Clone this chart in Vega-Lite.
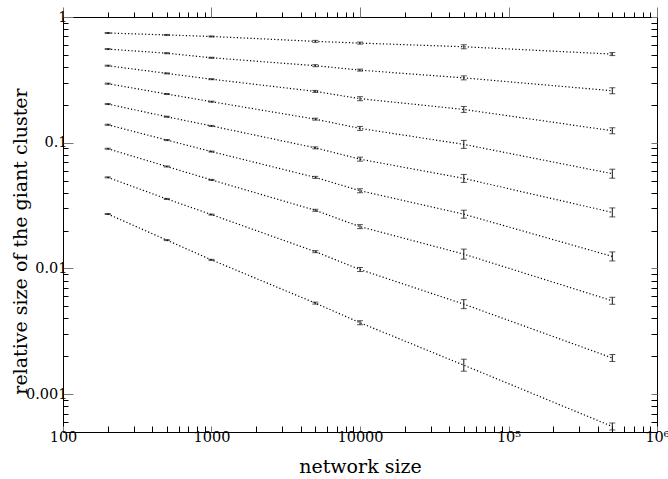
{
  "$schema": "https://vega.github.io/schema/vega-lite/v6.json",
  "width": 594,
  "height": 415,
  "autosize": {"type": "none"},
  "padding": {"left": 63, "top": 17, "right": 11, "bottom": 47},
  "background": "white",
  "config": {
    "view": {"stroke": "#000", "strokeWidth": 1},
    "font": "DejaVu Serif",
    "axis": {"domain": false, "grid": false, "ticks": true, "labelFlush": false, "labelOverlap": false, "labelFont": "DejaVu Serif", "labelFontSize": 14.5, "labelColor": "#000", "titleFont": "DejaVu Serif", "titleFontWeight": "normal", "titleColor": "#000", "titleFontSize": 19}
  },
  "data": {"values": [
    {"series": 1, "n": 200, "s": 0.746, "lo": 0.7392, "hi": 0.7529},
    {"series": 1, "n": 500, "s": 0.72, "lo": 0.7134, "hi": 0.7266},
    {"series": 1, "n": 1000, "s": 0.70, "lo": 0.6936, "hi": 0.7064},
    {"series": 1, "n": 5000, "s": 0.64, "lo": 0.6284, "hi": 0.6518},
    {"series": 1, "n": 10000, "s": 0.62, "lo": 0.6087, "hi": 0.6315},
    {"series": 1, "n": 50000, "s": 0.58, "lo": 0.5591, "hi": 0.6016},
    {"series": 1, "n": 500000, "s": 0.507, "lo": 0.4932, "hi": 0.5212},
    {"series": 2, "n": 200, "s": 0.556, "lo": 0.5509, "hi": 0.5611},
    {"series": 2, "n": 500, "s": 0.515, "lo": 0.5103, "hi": 0.5197},
    {"series": 2, "n": 1000, "s": 0.474, "lo": 0.4697, "hi": 0.4784},
    {"series": 2, "n": 5000, "s": 0.41, "lo": 0.4026, "hi": 0.4176},
    {"series": 2, "n": 10000, "s": 0.378, "lo": 0.3711, "hi": 0.385},
    {"series": 2, "n": 50000, "s": 0.328, "lo": 0.3162, "hi": 0.3402},
    {"series": 2, "n": 500000, "s": 0.259, "lo": 0.2451, "hi": 0.2736},
    {"series": 3, "n": 200, "s": 0.41, "lo": 0.4063, "hi": 0.4138},
    {"series": 3, "n": 500, "s": 0.356, "lo": 0.3528, "hi": 0.3593},
    {"series": 3, "n": 1000, "s": 0.32, "lo": 0.3171, "hi": 0.3229},
    {"series": 3, "n": 5000, "s": 0.256, "lo": 0.2513, "hi": 0.2607},
    {"series": 3, "n": 10000, "s": 0.224, "lo": 0.2159, "hi": 0.2324},
    {"series": 3, "n": 50000, "s": 0.184, "lo": 0.1742, "hi": 0.1944},
    {"series": 3, "n": 500000, "s": 0.1245, "lo": 0.1178, "hi": 0.1315},
    {"series": 4, "n": 200, "s": 0.295, "lo": 0.2923, "hi": 0.2977},
    {"series": 4, "n": 500, "s": 0.244, "lo": 0.2418, "hi": 0.2462},
    {"series": 4, "n": 1000, "s": 0.212, "lo": 0.2101, "hi": 0.214},
    {"series": 4, "n": 5000, "s": 0.154, "lo": 0.1512, "hi": 0.1568},
    {"series": 4, "n": 10000, "s": 0.13, "lo": 0.1253, "hi": 0.1348},
    {"series": 4, "n": 50000, "s": 0.097, "lo": 0.09015, "hi": 0.1044},
    {"series": 4, "n": 500000, "s": 0.0567, "lo": 0.05221, "hi": 0.06158},
    {"series": 5, "n": 200, "s": 0.203, "lo": 0.2011, "hi": 0.2049},
    {"series": 5, "n": 500, "s": 0.161, "lo": 0.1595, "hi": 0.1625},
    {"series": 5, "n": 1000, "s": 0.136, "lo": 0.1348, "hi": 0.1373},
    {"series": 5, "n": 5000, "s": 0.091, "lo": 0.08935, "hi": 0.09268},
    {"series": 5, "n": 10000, "s": 0.074, "lo": 0.07134, "hi": 0.07676},
    {"series": 5, "n": 50000, "s": 0.052, "lo": 0.04833, "hi": 0.05595},
    {"series": 5, "n": 500000, "s": 0.0279, "lo": 0.02569, "hi": 0.0303},
    {"series": 6, "n": 200, "s": 0.139, "lo": 0.1377, "hi": 0.1403},
    {"series": 6, "n": 500, "s": 0.105, "lo": 0.104, "hi": 0.106},
    {"series": 6, "n": 1000, "s": 0.085, "lo": 0.08422, "hi": 0.08578},
    {"series": 6, "n": 5000, "s": 0.053, "lo": 0.05204, "hi": 0.05398},
    {"series": 6, "n": 10000, "s": 0.0415, "lo": 0.04001, "hi": 0.04305},
    {"series": 6, "n": 50000, "s": 0.027, "lo": 0.02509, "hi": 0.02905},
    {"series": 6, "n": 500000, "s": 0.01246, "lo": 0.01147, "hi": 0.01353},
    {"series": 7, "n": 200, "s": 0.0896, "lo": 0.08878, "hi": 0.09042},
    {"series": 7, "n": 500, "s": 0.0647, "lo": 0.06411, "hi": 0.0653},
    {"series": 7, "n": 1000, "s": 0.0506, "lo": 0.05014, "hi": 0.05107},
    {"series": 7, "n": 5000, "s": 0.029, "lo": 0.02847, "hi": 0.02954},
    {"series": 7, "n": 10000, "s": 0.0215, "lo": 0.02073, "hi": 0.0223},
    {"series": 7, "n": 50000, "s": 0.013, "lo": 0.01186, "hi": 0.01425},
    {"series": 7, "n": 500000, "s": 0.00553, "lo": 0.005188, "hi": 0.005895},
    {"series": 8, "n": 200, "s": 0.053, "lo": 0.05252, "hi": 0.05349},
    {"series": 8, "n": 500, "s": 0.0357, "lo": 0.03537, "hi": 0.03603},
    {"series": 8, "n": 1000, "s": 0.0268, "lo": 0.02656, "hi": 0.02705},
    {"series": 8, "n": 5000, "s": 0.0136, "lo": 0.01335, "hi": 0.01385},
    {"series": 8, "n": 10000, "s": 0.0098, "lo": 0.009448, "hi": 0.01017},
    {"series": 8, "n": 50000, "s": 0.0052, "lo": 0.004788, "hi": 0.005647},
    {"series": 8, "n": 500000, "s": 0.00194, "lo": 0.00182, "hi": 0.002068},
    {"series": 9, "n": 200, "s": 0.0271, "lo": 0.02685, "hi": 0.02735},
    {"series": 9, "n": 500, "s": 0.0168, "lo": 0.01665, "hi": 0.01695},
    {"series": 9, "n": 1000, "s": 0.0117, "lo": 0.01159, "hi": 0.01181},
    {"series": 9, "n": 5000, "s": 0.0053, "lo": 0.005204, "hi": 0.005398},
    {"series": 9, "n": 10000, "s": 0.0037, "lo": 0.003567, "hi": 0.003838},
    {"series": 9, "n": 50000, "s": 0.0017, "lo": 0.001523, "hi": 0.001897},
    {"series": 9, "n": 500000, "s": 0.000553, "lo": 0.0005188, "hi": 0.0005895}
  ]},
  "layer": [
    {
      "mark": {"type": "line", "color": "#000", "strokeWidth": 1.2, "strokeDash": [1.2, 2.2]},
      "encoding": {
        "x": {"field": "n", "type": "quantitative",
          "scale": {"type": "log", "domain": [100, 1000000], "nice": false},
          "axis": {"orient": "bottom", "title": "network size", "titleBaseline": "middle", "titleY": 34,
            "values": [100, 200, 300, 400, 500, 600, 700, 800, 900, 1000, 2000, 3000, 4000, 5000, 6000, 7000, 8000, 9000, 10000, 20000, 30000, 40000, 50000, 60000, 70000, 80000, 90000, 100000, 200000, 300000, 400000, 500000, 600000, 700000, 800000, 900000, 1000000],
            "tickSize": -6,
            "tickColor": {"condition": {"test": "abs(log(datum.value)/LN10 - round(log(datum.value)/LN10)) < 0.001", "value": "#777"}, "value": "#000"},
            "tickWidth": 1,
            "labelPadding": 4,
            "labelExpr": "datum.value == 100 ? '100' : datum.value == 1000 ? '1000' : datum.value == 10000 ? '10000' : datum.value == 100000 ? '10⁵' : datum.value == 1000000 ? '10⁶' : ''"}},
        "y": {"field": "s", "type": "quantitative",
          "scale": {"type": "log", "domain": [0.0005, 1], "nice": false},
          "axis": {"orient": "left", "title": "relative size of the giant cluster", "titleBaseline": "middle", "titleX": -43, "titleY": 224,
            "values": [0.0005, 0.0006, 0.0007, 0.0008, 0.0009, 0.001, 0.002, 0.003, 0.004, 0.005, 0.006, 0.007, 0.008, 0.009, 0.01, 0.02, 0.03, 0.04, 0.05, 0.06, 0.07, 0.08, 0.09, 0.1, 0.2, 0.3, 0.4, 0.5, 0.6, 0.7, 0.8, 0.9, 1],
            "tickSize": {"condition": {"test": "abs(log(datum.value)/LN10 - round(log(datum.value)/LN10)) < 0.001", "value": -10}, "value": -5},
            "tickColor": {"condition": {"test": "abs(log(datum.value)/LN10 - round(log(datum.value)/LN10)) < 0.001", "value": "#777"}, "value": "#000"},
            "tickWidth": 1,
            "labelPadding": 6,
            "labelExpr": "abs(log(datum.value)/LN10 - round(log(datum.value)/LN10)) < 0.001 ? format(datum.value, '~g') : ''"}},
        "detail": {"field": "series", "type": "nominal"}
      }
    },
    {
      "mark": {"type": "errorbar", "color": "#111", "ticks": {"size": 6, "color": "#111"}},
      "encoding": {
        "x": {"field": "n", "type": "quantitative",
          "scale": {"type": "log", "domain": [100, 1000000], "nice": false},
          "axis": {"orient": "top", "title": null, "labels": false,
            "values": [100, 200, 300, 400, 500, 600, 700, 800, 900, 1000, 2000, 3000, 4000, 5000, 6000, 7000, 8000, 9000, 10000, 20000, 30000, 40000, 50000, 60000, 70000, 80000, 90000, 100000, 200000, 300000, 400000, 500000, 600000, 700000, 800000, 900000, 1000000],
            "tickSize": {"condition": {"test": "abs(log(datum.value)/LN10 - round(log(datum.value)/LN10)) < 0.001", "value": 10}, "value": 5},
            "tickColor": {"condition": {"test": "abs(log(datum.value)/LN10 - round(log(datum.value)/LN10)) < 0.001", "value": "#777"}, "value": "#000"}}},
        "y": {"field": "lo", "type": "quantitative",
          "scale": {"type": "log", "domain": [0.0005, 1], "nice": false},
          "axis": {"orient": "right", "title": null, "labels": false,
            "values": [0.0005, 0.0006, 0.0007, 0.0008, 0.0009, 0.001, 0.002, 0.003, 0.004, 0.005, 0.006, 0.007, 0.008, 0.009, 0.01, 0.02, 0.03, 0.04, 0.05, 0.06, 0.07, 0.08, 0.09, 0.1, 0.2, 0.3, 0.4, 0.5, 0.6, 0.7, 0.8, 0.9, 1],
            "tickSize": -6,
            "tickColor": {"condition": {"test": "abs(log(datum.value)/LN10 - round(log(datum.value)/LN10)) < 0.001", "value": "#777"}, "value": "#000"}}},
        "y2": {"field": "hi"}
      }
    }
  ],
  "resolve": {"axis": {"x": "independent", "y": "independent"}}
}
